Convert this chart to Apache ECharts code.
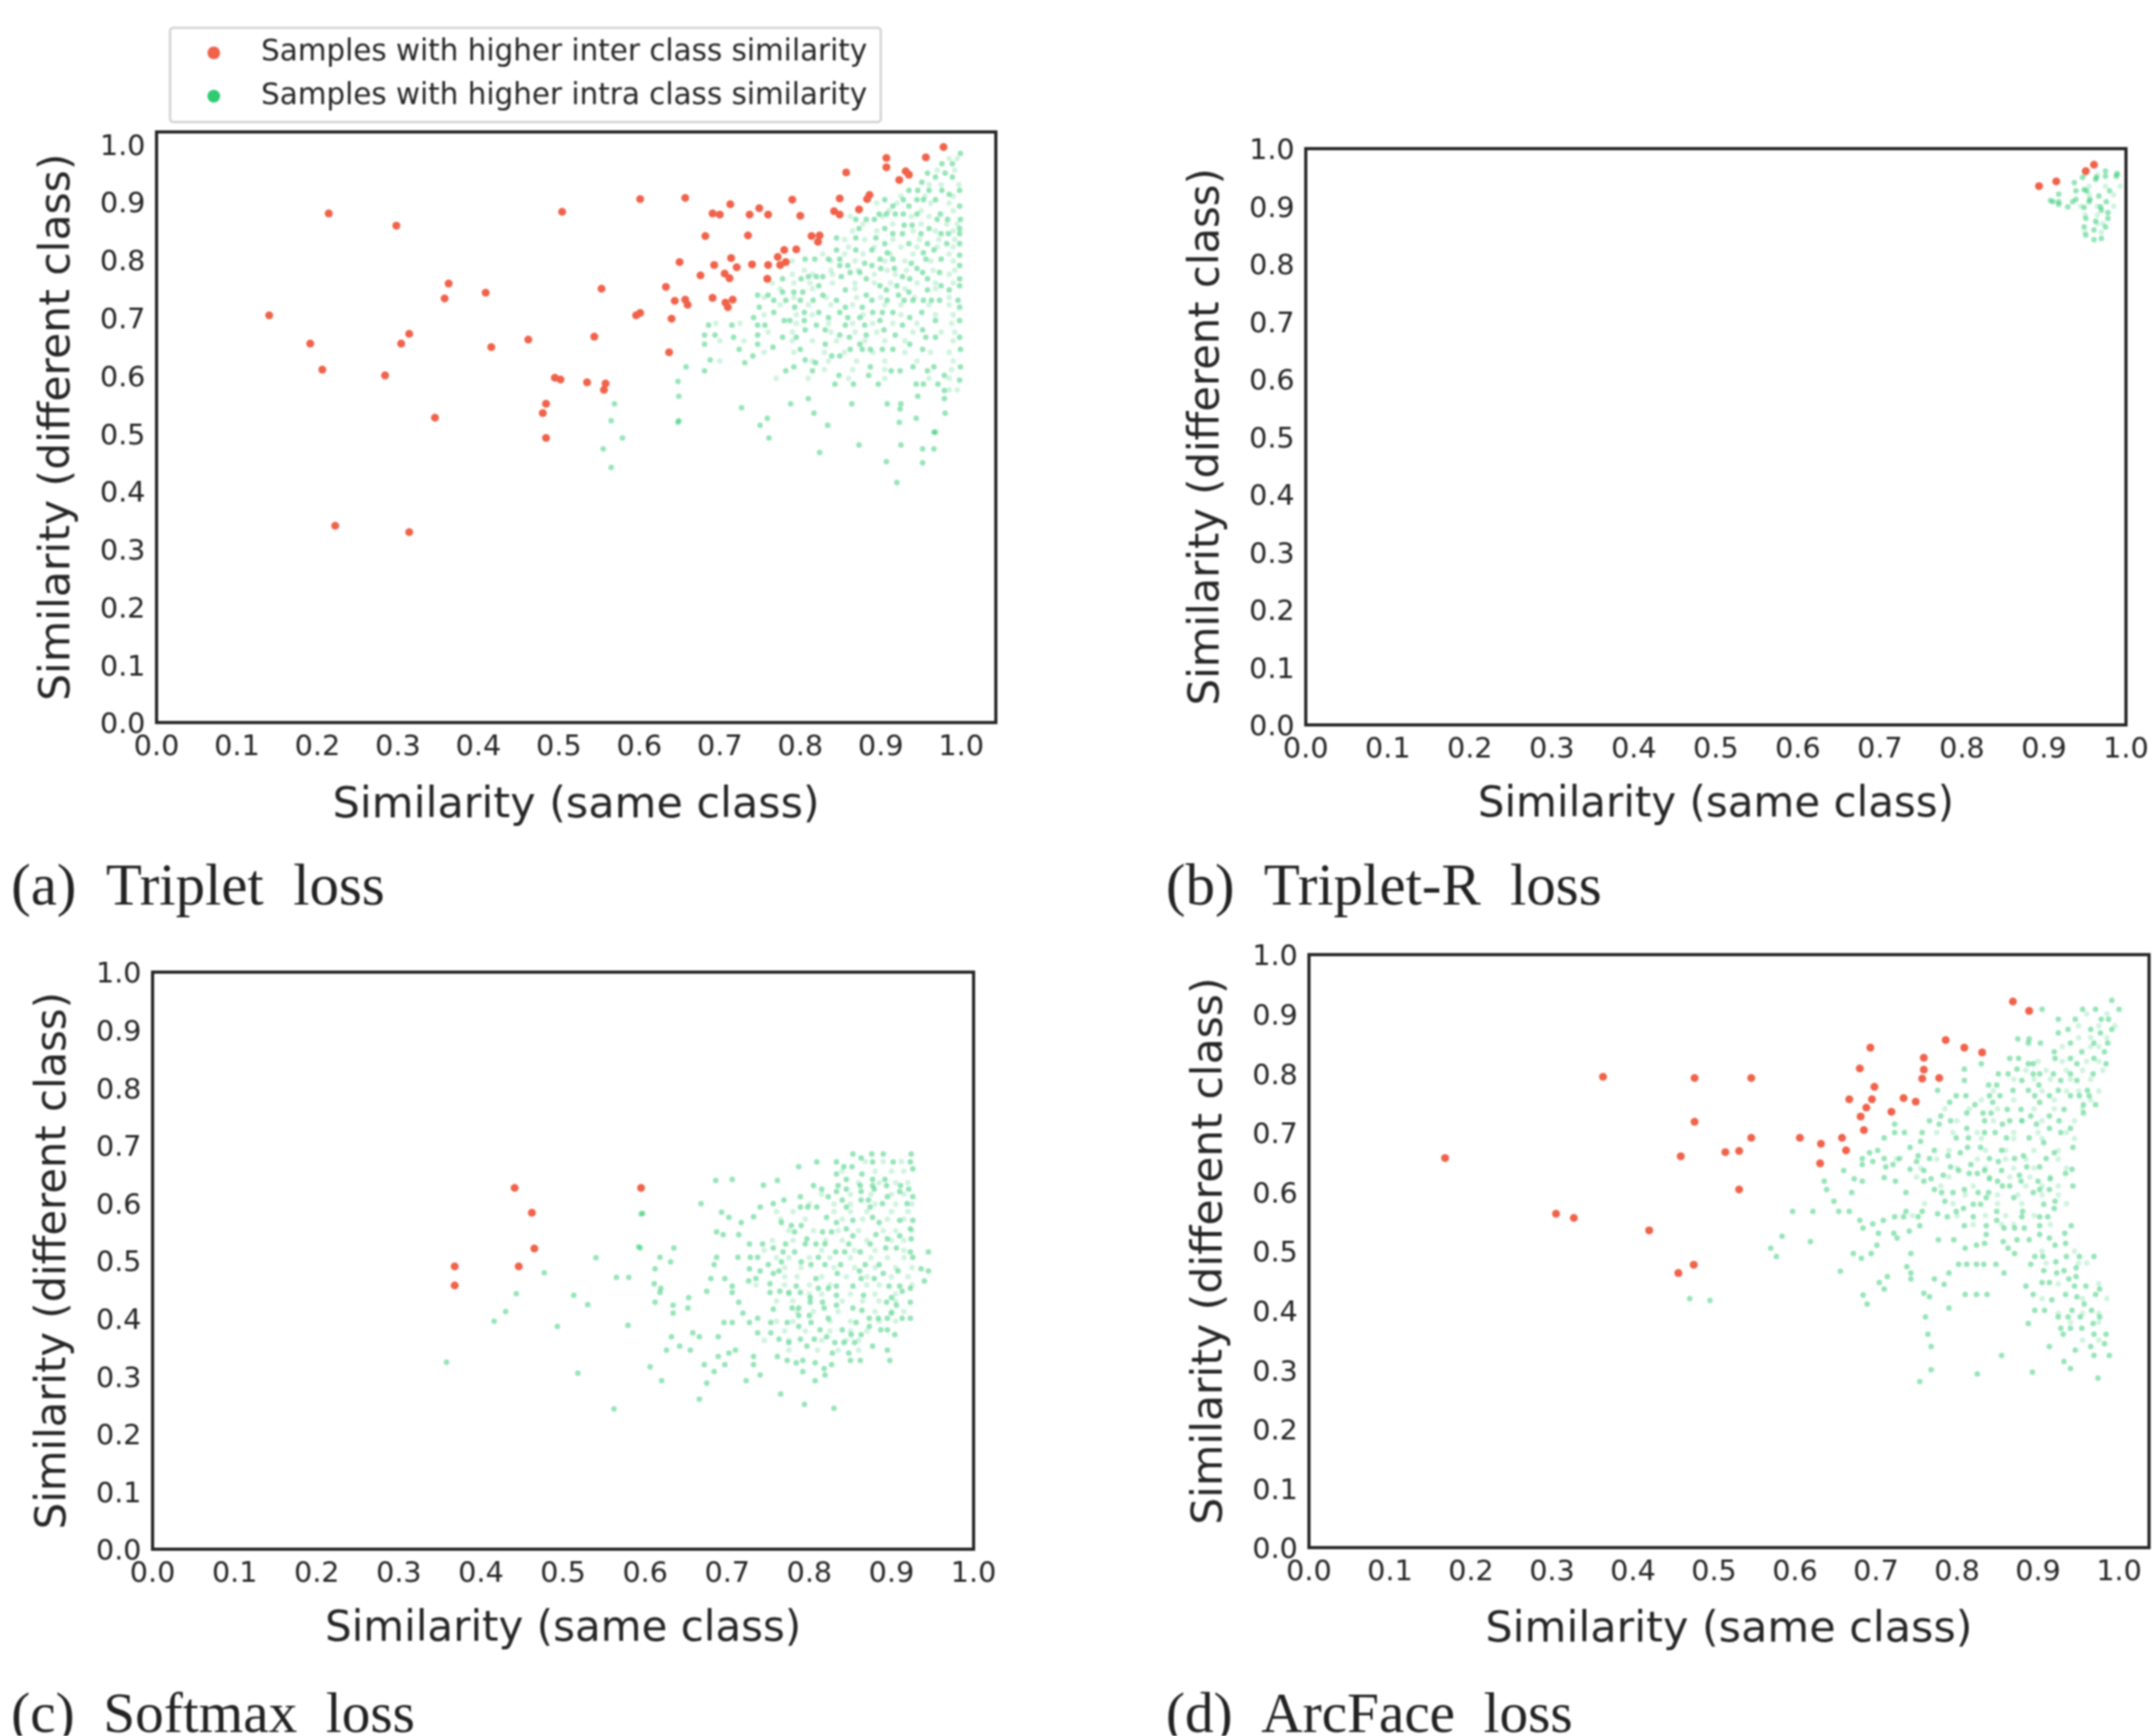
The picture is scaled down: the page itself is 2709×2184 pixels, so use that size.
<!DOCTYPE html>
<html><head><meta charset="utf-8">
<style>html,body{margin:0;padding:0;background:#fff}#main{width:2709px;height:2184px;filter:blur(1.2px)}</style>
<script src="https://cdn.jsdelivr.net/npm/echarts@6/dist/echarts.min.js"></script>
</head><body><div id="main"></div>
<script>
const interName='Samples with higher inter class similarity';
const intraName='Samples with higher intra class similarity';
const tickValues=[0,0.1,0.2,0.3,0.4,0.5,0.6,0.7,0.8,0.9,1.0];
const xTitle='Similarity (same class)';
const yTitle='Similarity (different class)';

// each point is [same class, different class]
const tripletInter=[[.140,.704],[.191,.655],[.206,.610],[.214,.880],[.222,.340],[.284,.600],[.298,.859],[.304,.655],[.314,.672],[.314,.329],[.346,.527],[.358,.733],[.363,.759],[.409,.743],[.416,.649],[.462,.662],[.480,.535],[.484,.551],[.484,.492],[.495,.596],[.502,.593],[.504,.883],[.535,.588],[.544,.667],[.553,.750],[.556,.575],[.558,.586],[.596,.704],[.601,.708],[.601,.905],[.633,.753],[.637,.640],[.640,.698],[.644,.729],[.650,.796],[.657,.907],[.657,.731],[.660,.722],[.676,.773],[.682,.841],[.691,.734],[.691,.880],[.693,.791],[.700,.878],[.706,.776],[.707,.726],[.712,.768],[.713,.896],[.710,.718],[.714,.803],[.716,.731],[.721,.787],[.735,.842],[.737,.878],[.740,.792],[.749,.889],[.759,.767],[.760,.878],[.760,.791],[.772,.805],[.775,.791],[.780,.817],[.782,.796],[.790,.904],[.795,.818],[.800,.876],[.814,.841],[.824,.842],[.822,.831],[.842,.884],[.849,.878],[.849,.906],[.857,.951],[.873,.887],[.883,.905],[.886,.912],[.907,.976],[.907,.960],[.923,.938],[.931,.953],[.935,.947],[.956,.977],[.978,.995]];
// rows: first number is the different-class value, the rest are same-class values
const tripletIntraRows=[[.984,.999],[.966,.976,.989],[.950,.980,.958],[.943,.968,.989],[.934,.951],[.920,.946,.960,.976,.998,.935],[.913,.985],[.904,.905,.928,.953,.968,.945],[.893,.915,.998,.935],[.879,.898,.907,.918,.928,.945,.974],[.870,.882,.983,.999,.970,.869,.892],[.860,.929,.939],[.854,.873,.905,.960,.998],[.845,.927,.950,.915,.975,.998,.984],[.838,.845,.869,.894],[.828,.905,.958,.982,.998,.935],[.817,.845,.869,.889,.966],[.812,.953,.908],[.808,.998],[.801,.806,.818,.835,.849,.975,.899,.915,.956],[.794,.880,.938],[.790,.849,.859,.998,.889],[.785,.900,.917,.945],[.778,.973,.952,.862,.874],[.771,.810,.820,.828,.851,.927],[.767,.778,.801,.882,.998,.936,.958],[.755,.823,.899,.920,.975,.998],[.748,.856,.985,.958,.907],[.744,.778,.792,.803,.935],[.739,.828,.922,.882,.747,.760],[.730,.767,.782,.800,.816,.845,.889,.908,.929,.940,.953,.963,.973,.996],[.718,.749,.793,.998,.856,.877],[.709,.805,.767,.849,.890,.902,.915,.951,.823],[.700,.742,.835,.859,.874,.936],[.695,.780,.787,.805,.899,.968,.998],[.687,.686,.715,.747,.756,.820,.856,.880,.927],[.679,.806,.831,.904,.952],[.670,.694,.747,.849,.882,.918,.681],[.666,.717,.778,.795,.861,.968,.956,.998],[.654,.681,.747,.831,.874,.936],[.649,.766],[.645,.724,.800,.862,.887,.902,.915,.952,.999,.877],[.634,.741,.849,.839],[.627,.688,.806],[.622,.731,.819],[.615,.658,.792,.887,.940,.966,.999],[.608,.681,.782,.815,.913,.924,.958],[.600,.848,.885,.979],[.592,.998],[.590,.648],[.585,.843,.866,.897,.944,.953,.971],[.574,.979],[.564,.649,.946],[.560,.810,.979],[.551,.788,.864,.908,.925,.569],[.544,.727],[.542,.924],[.535,.817,.980],[.526,.759,.944],[.522,.649,.565],[.519,.648,.923],[.514,.750,.834],[.502,.968,.966],[.492,.761,.579],[.480,.925,.873],[.473,.555,.952,.966],[.467,.824],[.451,.907],[.449,.952],[.441,.565],[.415,.920]];
const tripletFaintRows=[[.975,.985,.995],[.955,.970,.992],[.930,.960,.975,.997],[.910,.925,.955,.990],[.898,.895,.920,.962,.985],[.885,.872,.910,.950,.990],[.875,.862,.902,.938,.960],[.862,.878,.915,.950,.982,.995],[.850,.865,.895,.940,.968,.990],[.835,.855,.880,.915,.948,.972,.992],[.822,.860,.892,.925,.945,.970,.990],[.810,.828,.855,.878,.912,.940,.985],[.798,.790,.838,.868,.905,.930,.962,.990],[.782,.805,.838,.872,.908,.932,.965,.992],[.775,.790,.815,.840,.892,.918,.985],[.760,.765,.792,.812,.840,.868,.892,.912,.945,.968,.990],[.750,.775,.815,.868,.930,.968],[.735,.755,.792,.832,.870,.900,.942,.985],[.722,.775,.810,.838,.865,.905,.925,.960,.985],[.705,.755,.795,.815,.878,.925,.968,.990],[.690,.695,.725,.795,.835,.865,.890,.915,.945,.988],[.675,.760,.790,.838,.868,.895,.940,.975,.992],[.660,.700,.730,.790,.815,.845,.880,.905,.930,.990],[.640,.755,.792,.830,.855,.890,.930,.962,.985],[.625,.700,.815,.835,.870,.905,.945,.990],[.610,.830,.865,.905,.988],[.595,.770,.810,.860,.905,.960,.985],[.575,.985,.995]];

const tripletRInter=[[.894,.935],[.915,.943],[.951,.961],[.961,.972]];
const tripletRIntraRows=[[.961,.975],[.957,.989],[.952,.975,.988],[.950,.947,.964],[.947,.963],[.941,.937],[.929,.949],[.927,.939,.952,.980],[.921,.918],[.918,.967],[.912,.939,.956],[.910,.908],[.908,.911,.918,.935,.955,.976],[.903,.918],[.899,.929,.969],[.898,.949],[.893,.970],[.889,.978],[.879,.951,.978],[.874,.963],[.864,.949,.975],[.859,.961],[.850,.951],[.844,.970],[.842,.961]];
const tripletRFaintRows=[[.955,.950,.965,.990],[.935,.955,.975,.993],[.920,.955,.985],[.900,.945,.965,.985],[.885,.950,.965],[.870,.965,.972],[.855,.950,.970]];

const softmaxInter=[[.368,.490],[.368,.457],[.441,.626],[.446,.490],[.462,.583],[.465,.521],[.595,.626]];
const softmaxIntraRows=[[.685,.853,.876,.890,.924],[.678,.863],[.671,.809,.833,.877,.902,.923],[.663,.787,.842,.852],[.659,.926],[.650,.833,.864],[.641,.845,.892,.877,.706],[.639,.686,.761],[.631,.744],[.630,.805,.835,.862,.877,.894,.911],[.624,.815,.845,.879,.921],[.620,.863,.910,.833],[.611,.789,.823,.926,.895],[.605,.769,.840,.863,.872],[.599,.668,.756,.889,.919],[.593,.740,.789,.798,.809,.845,.874],[.584,.693],[.582,.597],[.576,.732],[.575,.702,.821,.877],[.570,.926,.910,.853],[.566,.717,.766,.833,.885],[.561,.778,.790],[.555,.845,.923],[.550,.687,.782,.816,.827],[.545,.695,.714,.881],[.543,.853,.910],[.538,.924,.895,.797],[.529,.727,.743,.771,.795,.808,.819,.848,.874],[.522,.594,.635,.756,.893,.906],[.515,.768,.782,.832,.843,.862,.923,.945],[.506,.618,.687,.713,.728,.737,.926,.811],[.498,.631,.766,.790],[.493,.684,.750,.802,.819,.838,.868,.885],[.486,.612,.727,.936],[.482,.740,.763,.861,.908,.945],[.478,.756,.834,.890],[.469,.680,.697,.735,.808,.863,.879],[.465,.940,.726],[.460,.611,.752],[.456,.706,.784,.833,.853,.897,.910],[.452,.619,.811,.823,.923],[.447,.675,.764,.913],[.445,.618,.706,.752,.775,.789],[.440,.866,.833],[.436,.653,.801,.900],[.428,.612,.714,.801,.816,.923,.894],[.423,.634,.833,.906],[.418,.652,.779,.818,.787,.853],[.416,.756],[.414,.864],[.409,.634,.719,.900],[.405,.787,.800],[.400,.737,.823,.913,.873,.923,.884,.895],[.393,.696,.706,.727,.753,.773,.802,.857],[.386,.787,.873],[.380,.813,.840,.887,.895],[.375,.658,.737,.753],[.372,.851,.863,.904],[.368,.689,.632,.821,.666],[.364,.763,.789,.806],[.358,.775,.842,.831,.855],[.352,.797,.642,.877],[.345,.710,.895,.626,.655],[.340,.848,.828,.702],[.334,.732,.761,.689],[.327,.773,.792,.850,.862,.898],[.323,.807,.784],[.320,.672,.732,.827,.697],[.316,.606],[.313,.818],[.308,.684,.792],[.302,.819,.740],[.292,.807,.620,.723],[.288,.675],[.269,.765],[.260,.666],[.251,.794],[.244,.830],[.581,.595],[.524,.592],[.505,.540],[.479,.477],[.471,.565,.580],[.443,.443],[.440,.513],[.424,.530],[.412,.430],[.395,.416],[.388,.579],[.386,.493],[.324,.358],[.305,.518],[.243,.562]];
const softmaxFaintRows=[[.672,.868,.890,.912],[.655,.840,.880,.900,.915],[.635,.860,.885,.905,.920],[.615,.815,.850,.875,.900,.915],[.598,.800,.830,.850,.880,.905,.925],[.585,.760,.780,.830,.850,.870,.900,.920],[.572,.765,.795,.840,.865,.895,.915],[.552,.775,.805,.835,.860,.890,.905,.925],[.535,.755,.780,.820,.840,.870,.900,.915],[.518,.745,.815,.855,.880,.915],[.505,.760,.775,.800,.825,.850,.875,.895,.915],[.488,.770,.790,.830,.855,.880,.905,.925],[.472,.770,.785,.815,.845,.870,.900,.920],[.458,.735,.770,.800,.825,.870,.885,.925],[.442,.775,.800,.815,.850,.880,.905],[.430,.760,.780,.840,.865,.885,.905],[.412,.785,.805,.835,.880,.900,.915],[.395,.760,.780,.825,.850,.885,.905],[.378,.770,.795,.825,.850,.870],[.362,.745,.775,.815,.845,.860],[.345,.775,.810,.835,.860]];

const arcfaceInter=[[.869,.921],[.889,.905],[.786,.856],[.693,.843],[.809,.843],[.831,.835],[.759,.826],[.680,.808],[.759,.806],[.757,.791],[.778,.792],[.546,.792],[.698,.777],[.667,.756],[.695,.756],[.734,.758],[.749,.752],[.688,.742],[.719,.735],[.681,.727],[.685,.704],[.546,.691],[.606,.691],[.658,.691],[.632,.681],[.663,.670],[.631,.648],[.168,.657],[.305,.563],[.327,.556],[.363,.794],[.420,.535],[.456,.463],[.475,.477],[.459,.660],[.476,.792],[.476,.718],[.514,.667],[.531,.669],[.531,.604]];
const arcfaceIntraRows=[[.923,.991],[.908,.905,.955,.971,1.000],[.891,.925,.946,.978,.987],[.874,.937,.965,.991],[.868,.925,.977],[.858,.875,.889],[.851,.903,.940,.888,.969,.986],[.836,.920,.954,.982],[.825,.865,.876,.940,.921,.969],[.816,.830,.894,.888,.948,.984],[.807,.809,.874],[.799,.851,.863,.894,.902,.919,.940,.968],[.788,.809,.880,.928,.948],[.780,.839,.849,.901],[.771,.776,.869,.888,.925,.961],[.762,.799,.811,.853,.840,.896,.914,.963,.940,.951],[.751,.791,.844,.902],[.747,.822,.956,.971],[.739,.862,.879,.932],[.733,.812,.832,.842,.956],[.728,.891,.780,.914],[.720,.766,.792,.834,.865,.880,.926],[.714,.856,.898,.778,.723],[.707,.812,.914,.940],[.700,.723,.735,.757,.834,.847,.928],[.691,.710,.799,.814,.861,.889],[.685,.755],[.683,.907],[.675,.742,.813,.829,.943],[.670,.702,.772,.855],[.666,.692,.804,.920],[.661,.752,.789,.882],[.656,.683,.710,.729,.766,.871,.840,.910],[.651,.696,.750,.851],[.646,.683,.721,.817],[.642,.712,.792,.886,.902],[.638,.742,.942],[.636,.660,.802,.834,.855,.759],[.631,.815,.825,.934],[.628,.783,.877],[.624,.710],[.622,.673,.768,.840,.915],[.618,.636,.683,.724,.759,.850,.879,.900],[.610,.856,.865,.943],[.604,.639,.772,.809,.914,.902],[.599,.670,.737,.781,.795,.826,.839,.894],[.590,.870,.836],[.584,.648,.785,.921],[.579,.820,.829,.907],[.572,.808,.920],[.567,.597,.622,.654,.667,.737,.757,.799,.881,.849],[.563,.776],[.558,.723,.734,.752,.788,.820,.902,.912,.880],[.552,.680,.849,.709],[.546,.696],[.543,.754,.809,.836,.941,.902],[.539,.684,.858,.871,.883],[.534,.741],[.530,.703,.722,.933],[.528,.902,.836],[.525,.584],[.522,.914,.726],[.519,.777,.796,.874,.889],[.516,.619,.857],[.513,.934,.834],[.510,.701,.824,.921],[.505,.810,.863,.570],[.496,.672,.694,.743,.871],[.491,.577,.896,.906,.935,.951,.969],[.488,.682],[.482,.922],[.478,.824,.833,.848,.812,.802,.891],[.474,.738],[.472,.947],[.467,.932,.907],[.466,.656],[.463,.790,.743,.858,.923],[.457,.714,.947],[.453,.772,.743,.938],[.447,.704,.905,.914],[.444,.784],[.441,.885,.959,.945],[.436,.710,.976],[.429,.759],[.427,.894,.810,.824,.837,.934,.971],[.426,.684],[.423,.948,.766],[.420,.470],[.417,.495],[.418,.917],[.411,.689,.957],[.404,.790],[.400,.896,.908,.942,.966],[.389,.761,.925,.937,.952,.976],[.378,.888,.968],[.370,.928,.940,.954],[.360,.984,.931,.969,.764],[.344,.982],[.339,.768,.914,.965],[.333,.946],[.324,.855,.969,.988],[.314,.932],[.302,.940],[.300,.768],[.296,.893],[.293,.825],[.286,.974],[.280,.754]];
const arcfaceFaintRows=[[.900,.960,.985],[.880,.950,.975,.995],[.860,.950,.965,.985],[.845,.930,.965,.975],[.820,.900,.930,.960,.975],[.805,.885,.910,.935,.955,.980],[.790,.870,.895,.915,.940,.965],[.770,.845,.905,.935,.950,.975],[.755,.830,.870,.920,.965],[.740,.785,.815,.850,.895,.920,.955],[.720,.800,.845,.880,.905,.945],[.700,.775,.795,.825,.870,.900,.935],[.690,.830,.870,.905,.945],[.670,.790,.835,.860,.895,.925],[.655,.725,.775,.825,.860,.885,.925],[.640,.755,.800,.835,.870,.895,.935],[.625,.750,.790,.840,.865,.890,.915],[.610,.780,.820,.885,.905,.925],[.595,.810,.850,.875,.905,.925],[.580,.760,.795,.850,.880,.935],[.560,.745,.800,.835,.860,.895],[.545,.820,.855,.870,.915],[.500,.905,.945],[.480,.910,.950,.960],[.445,.925,.975],[.420,.905,.955,.985],[.395,.925,.955,.975],[.380,.940,.975],[.350,.975,.955]];

const fromRows=rows=>rows.flatMap(r=>r.slice(1).map(x=>[x,r[0]]));

const panels=[
 {caption:'(a)  Triplet  loss',capFont:74,capLeft:14,capTop:1082,left:197,top:166,width:1056,height:743,xMax:1.043,yMax:1.021,xFont:54,yFont:53.5,xGap:78,yGap:97,inter:tripletInter,intra:fromRows(tripletIntraRows),faint:fromRows(tripletFaintRows)},
 {caption:'(b)  Triplet-R  loss',capFont:74,capLeft:1467,capTop:1082,left:1643,top:187,width:1032,height:725,xMax:1,yMax:1,xFont:52.8,yFont:52.5,xGap:75,yGap:97,inter:tripletRInter,intra:fromRows(tripletRIntraRows),faint:fromRows(tripletRFaintRows)},
 {caption:'(c)  Softmax  loss',capFont:72,capLeft:14,capTop:2124,left:192,top:1223,width:1033,height:726,xMax:1,yMax:1,xFont:52.8,yFont:52.5,xGap:75,yGap:97,inter:softmaxInter,intra:fromRows(softmaxIntraRows),faint:fromRows(softmaxFaintRows)},
 {caption:'(d)  ArcFace  loss',capFont:72,capLeft:1467,capTop:2124,left:1647,top:1201,width:1057,height:746,xMax:1.037,yMax:1,xFont:54,yFont:53.5,xGap:77,yGap:97,inter:arcfaceInter,intra:fromRows(arcfaceIntraRows),faint:fromRows(arcfaceFaintRows)}
];
const ink='#262626', red='#f0624a', green='#2ecc71';
const axis=(max,name,gap,font,labelExtra)=>({type:'value',min:0,max,name,nameLocation:'middle',nameGap:gap,
 nameTextStyle:{fontFamily:'DejaVu Sans',fontSize:font,color:ink},
 axisLine:{show:false},axisTick:{show:false},splitLine:{show:false},
 axisLabel:{customValues:tickValues,formatter:v=>v.toFixed(1),fontFamily:'DejaVu Sans',fontSize:36,color:ink,margin:14,...labelExtra}});
const option={
 animation:false,backgroundColor:'#fff',
 title:panels.map(p=>({text:p.caption,left:p.capLeft,top:p.capTop,padding:0,textStyle:{fontFamily:'Liberation Serif',fontSize:p.capFont,fontWeight:'normal',color:'#222'}})),
 legend:{show:true,orient:'vertical',left:214,top:35,padding:[13,17,14,47],itemWidth:109,itemHeight:16,itemGap:17.5,selectedMode:false,
  borderColor:'#d4d4d4',borderWidth:3,borderRadius:4,
  textStyle:{fontFamily:'DejaVu Sans',fontSize:37,color:ink},
  data:[{name:interName,icon:'circle',itemStyle:{color:red,opacity:1}},{name:intraName,icon:'circle',itemStyle:{color:green,opacity:1}}]},
 grid:panels.map(p=>({left:p.left,top:p.top,width:p.width,height:p.height,show:true,borderColor:ink,borderWidth:4,backgroundColor:'#fff'})),
 xAxis:panels.map((p,i)=>({...axis(p.xMax,xTitle,p.xGap,p.xFont,{}),gridIndex:i})),
 yAxis:panels.map((p,i)=>({...axis(p.yMax,yTitle,p.yGap,p.yFont,{verticalAlign:'top',lineHeight:8}),gridIndex:i})),
 series:panels.flatMap((p,i)=>[
  {name:intraName,type:'scatter',xAxisIndex:i,yAxisIndex:i,data:p.faint,symbol:'circle',symbolSize:7,silent:true,itemStyle:{color:green,opacity:.22}},
  {name:intraName,type:'scatter',xAxisIndex:i,yAxisIndex:i,data:p.intra,symbol:'circle',symbolSize:7,silent:true,itemStyle:{color:green,opacity:.5}},
  {name:interName,type:'scatter',xAxisIndex:i,yAxisIndex:i,data:p.inter,symbol:'circle',symbolSize:10,silent:true,itemStyle:{color:red,opacity:1}}
 ])
};
echarts.init(document.getElementById('main'),null,{renderer:'canvas'}).setOption(option);
</script></body></html>
